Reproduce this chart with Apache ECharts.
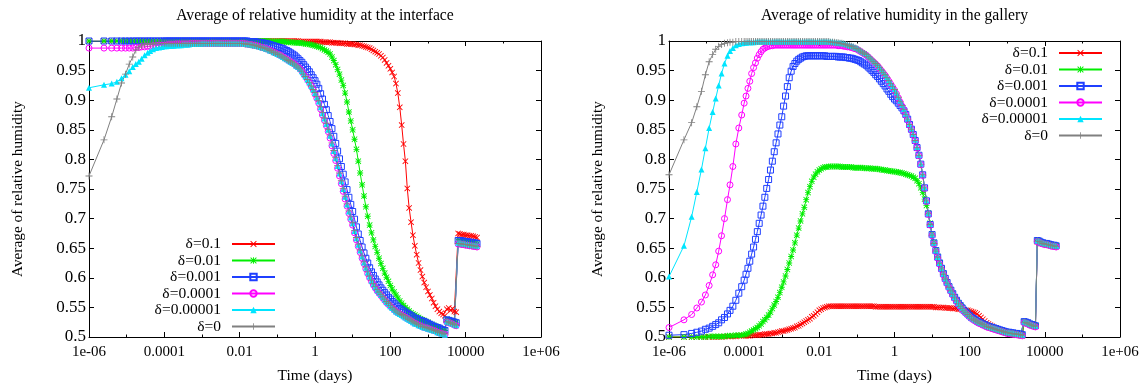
<!DOCTYPE html>
<html>
<head>
<meta charset="utf-8">
<script src="https://cdn.jsdelivr.net/npm/echarts@6/dist/echarts.min.js"></script>
<style>
  html, body { margin: 0; padding: 0; background: #fff; }
  #chart { width: 1148px; height: 389px; }
</style>
</head>
<body>
<div id="chart"></div>
<script>
// Sampling times (days) shared by every curve
const TIME = [
  1e-6, 2.5e-6, 4e-6, 5.5e-6, 7.3e-6, 9.3e-6, 1.17e-5, 1.45e-5, 1.75e-5, 2.1e-5, 2.5e-5,
  3e-5, 3.6e-5, 4.2e-5, 5e-5, 6e-5, 7.2e-5, 8.6e-5,
  1e-4, 1.12e-4, 1.26e-4, 1.41e-4, 1.58e-4, 1.78e-4, 2e-4, 2.24e-4, 2.51e-4, 2.82e-4,
  3.16e-4, 3.55e-4, 3.98e-4, 4.47e-4, 5.01e-4, 5.62e-4, 6.31e-4, 7.08e-4, 7.94e-4, 8.91e-4,
  1e-3, 1.12e-3, 1.26e-3, 1.41e-3, 1.58e-3, 1.78e-3, 2e-3, 2.24e-3, 2.51e-3, 2.82e-3,
  3.16e-3, 3.55e-3, 3.98e-3, 4.47e-3, 5.01e-3, 5.62e-3, 6.31e-3, 7.08e-3, 7.94e-3, 8.91e-3,
  1e-2, 1.12e-2, 1.26e-2, 1.41e-2, 1.58e-2, 1.78e-2, 2e-2, 2.24e-2, 2.51e-2, 2.82e-2,
  3.16e-2, 3.55e-2, 3.98e-2, 4.47e-2, 5.01e-2, 5.62e-2, 6.31e-2, 7.08e-2, 7.94e-2, 8.91e-2,
  0.1, 0.112, 0.126, 0.141, 0.158, 0.178, 0.2, 0.224, 0.251, 0.282,
  0.316, 0.355, 0.398, 0.447, 0.501, 0.562, 0.631, 0.708, 0.794, 0.891,
  1, 1.12, 1.26, 1.41, 1.58, 1.78, 2, 2.24, 2.51, 2.82,
  3.16, 3.55, 3.98, 4.47, 5.01, 5.62, 6.31, 7.08, 7.94, 8.91,
  10, 11.2, 12.6, 14.1, 15.8, 17.8, 20, 22.4, 25.1, 28.2,
  31.6, 35.5, 39.8, 44.7, 50.1, 56.2, 63.1, 70.8, 79.4, 89.1,
  100, 112, 126, 141, 158, 178, 200, 224, 251, 282,
  316, 355, 398, 447, 501, 562, 631, 708, 794, 891,
  1000, 1120, 1260, 1410, 1580, 1780, 2000, 2240, 2510, 2820,
  3160, 3550, 3980, 4470, 5010, 5620, 6310, 7080, 7940, 8910,
  10000, 11200, 12600, 14100, 15800, 17800, 20000
];

const LABELS = ['δ=0.1', 'δ=0.01', 'δ=0.001', 'δ=0.0001', 'δ=0.00001', 'δ=0'];

// Relative humidity at the interface (one row per decade after the first 18 samples)
const IF_01 = [
  1, 1, 1, 1, 1, 1, 1, 1, 1, 1, 1, 1, 1, 1, 1, 1, 1, 1,
  1, 1, 1, 1, 1, 1, 1, 1, 1, 1, 1, 1, 1, 1, 1, 1, 1, 1, 1, 1,
  1, 1, 1, 1, 1, 1, 1, 1, 1, 1, 1, 1, 1, 1, 1, 1, 1, 1, 1, 1,
  1, 1, 1, 1, 1, 1, 1, 1, 1, 1, 1, 1, 1, 1, 1, 1, 1, 1, 1, 1,
  1, 1, 1, 1, 1, 1, 1, 1, 1, 1, 1, 1, 0.999, 0.999, 0.999, 0.999, 0.999, 0.999, 0.999, 0.999,
  0.999, 0.999, 0.999, 0.999, 0.998, 0.998, 0.998, 0.998, 0.998, 0.997, 0.997, 0.997, 0.997, 0.996, 0.996, 0.996, 0.996, 0.995, 0.995, 0.995,
  0.995, 0.994, 0.994, 0.993, 0.993, 0.992, 0.991, 0.990, 0.989, 0.988, 0.986, 0.984, 0.982, 0.980, 0.978, 0.975, 0.972, 0.968, 0.963, 0.958,
  0.953, 0.947, 0.940, 0.928, 0.912, 0.888, 0.858, 0.826, 0.797, 0.751, 0.718, 0.694, 0.672, 0.654, 0.639, 0.625, 0.613, 0.602, 0.592, 0.584,
  0.577, 0.571, 0.565, 0.558, 0.552, 0.547, 0.543, 0.540, 0.538, 0.536, 0.547, 0.549, 0.545, 0.548, 0.543, 0.542, 0.675, 0.674, 0.673, 0.673,
  0.672, 0.672, 0.671, 0.671, 0.670, 0.669, 0.668
];
const IF_001 = [
  1, 1, 1, 1, 1, 1, 1, 1, 1, 1, 1, 1, 1, 1, 1, 1, 1, 1,
  1, 1, 1, 1, 1, 1, 1, 1, 1, 1, 1, 1, 1, 1, 1, 1, 1, 1, 1, 1,
  1, 1, 1, 1, 1, 1, 1, 1, 1, 1, 1, 1, 1, 1, 1, 1, 1, 1, 1, 1,
  1, 1, 1, 1, 1, 1, 1, 1, 1, 1, 1, 1, 1, 1, 1, 1, 0.999, 0.999, 0.999, 0.999,
  0.999, 0.999, 0.999, 0.999, 0.999, 0.998, 0.998, 0.998, 0.998, 0.997, 0.997, 0.997, 0.997, 0.996, 0.996, 0.995, 0.995, 0.994, 0.994, 0.993,
  0.992, 0.991, 0.990, 0.989, 0.987, 0.985, 0.983, 0.981, 0.978, 0.973, 0.967, 0.960, 0.952, 0.944, 0.934, 0.925, 0.912, 0.897, 0.880, 0.865,
  0.850, 0.834, 0.817, 0.797, 0.777, 0.757, 0.738, 0.720, 0.704, 0.689, 0.676, 0.664, 0.653, 0.643, 0.633, 0.624, 0.616, 0.608, 0.601, 0.594,
  0.587, 0.581, 0.576, 0.571, 0.566, 0.561, 0.557, 0.553, 0.550, 0.547, 0.544, 0.541, 0.539, 0.537, 0.535, 0.533, 0.531, 0.529, 0.528, 0.526,
  0.525, 0.523, 0.521, 0.520, 0.518, 0.516, 0.515, 0.513, 0.512, 0.511, 0.530, 0.529, 0.528, 0.527, 0.526, 0.525, 0.662, 0.662, 0.661, 0.661,
  0.660, 0.660, 0.659, 0.659, 0.658, 0.658, 0.657
];
const IF_0001 = [
  1, 1, 1, 1, 1, 1, 1, 1, 1, 1, 1, 1, 1, 1, 1, 1, 1, 1,
  1, 1, 1, 1, 1, 1, 1, 1, 1, 1, 1, 1, 1, 1, 1, 1, 1, 1, 1, 1,
  1, 1, 1, 1, 1, 1, 1, 1, 1, 1, 1, 1, 1, 1, 1, 1, 1, 1, 1, 1,
  1, 1, 1, 1, 1, 0.999, 0.999, 0.999, 0.999, 0.998, 0.998, 0.997, 0.997, 0.996, 0.996, 0.995, 0.994, 0.993, 0.992, 0.991,
  0.990, 0.989, 0.988, 0.987, 0.985, 0.984, 0.982, 0.980, 0.978, 0.976, 0.973, 0.970, 0.967, 0.964, 0.960, 0.956, 0.952, 0.948, 0.943, 0.938,
  0.933, 0.927, 0.920, 0.911, 0.902, 0.893, 0.884, 0.874, 0.864, 0.852, 0.839, 0.827, 0.814, 0.801, 0.788, 0.775, 0.762, 0.749, 0.736, 0.724,
  0.712, 0.699, 0.686, 0.674, 0.663, 0.652, 0.642, 0.633, 0.625, 0.617, 0.610, 0.604, 0.598, 0.593, 0.588, 0.583, 0.579, 0.575, 0.571, 0.567,
  0.564, 0.560, 0.557, 0.554, 0.551, 0.548, 0.546, 0.544, 0.542, 0.540, 0.538, 0.536, 0.534, 0.532, 0.531, 0.529, 0.528, 0.527, 0.526, 0.524,
  0.523, 0.521, 0.520, 0.518, 0.517, 0.516, 0.515, 0.513, 0.512, 0.511, 0.529, 0.528, 0.527, 0.526, 0.525, 0.524, 0.663, 0.663, 0.662, 0.662,
  0.661, 0.661, 0.660, 0.660, 0.659, 0.659, 0.658
];
const IF_00001 = [
  0.988, 0.988, 0.988, 0.988, 0.988, 0.988, 0.988, 0.988, 0.989, 0.989, 0.990, 0.990, 0.991, 0.991, 0.992, 0.992, 0.993, 0.993,
  0.993, 0.993, 0.994, 0.994, 0.994, 0.994, 0.995, 0.995, 0.995, 0.995, 0.995, 0.995, 0.995, 0.995, 0.996, 0.996, 0.996, 0.996, 0.996, 0.996,
  0.996, 0.996, 0.996, 0.996, 0.996, 0.996, 0.996, 0.996, 0.996, 0.996, 0.996, 0.996, 0.996, 0.996, 0.996, 0.996, 0.996, 0.996, 0.996, 0.996,
  0.996, 0.996, 0.996, 0.995, 0.995, 0.994, 0.994, 0.993, 0.993, 0.992, 0.991, 0.990, 0.989, 0.988, 0.987, 0.986, 0.984, 0.983, 0.981, 0.980,
  0.978, 0.977, 0.975, 0.973, 0.971, 0.969, 0.967, 0.965, 0.963, 0.961, 0.958, 0.956, 0.953, 0.949, 0.944, 0.940, 0.935, 0.930, 0.924, 0.918,
  0.910, 0.903, 0.895, 0.885, 0.875, 0.866, 0.857, 0.847, 0.836, 0.823, 0.810, 0.798, 0.785, 0.772, 0.759, 0.746, 0.733, 0.721, 0.709, 0.699,
  0.689, 0.676, 0.664, 0.653, 0.643, 0.633, 0.624, 0.615, 0.607, 0.600, 0.594, 0.588, 0.583, 0.578, 0.574, 0.570, 0.566, 0.562, 0.558, 0.555,
  0.552, 0.549, 0.546, 0.543, 0.541, 0.539, 0.537, 0.535, 0.533, 0.531, 0.529, 0.527, 0.525, 0.523, 0.522, 0.520, 0.519, 0.517, 0.516, 0.515,
  0.514, 0.513, 0.512, 0.511, 0.510, 0.508, 0.507, 0.506, 0.505, 0.504, 0.525, 0.524, 0.523, 0.522, 0.520, 0.519, 0.657, 0.657, 0.656, 0.656,
  0.655, 0.655, 0.654, 0.654, 0.653, 0.653, 0.652
];
const IF_000001 = [
  0.921, 0.926, 0.928, 0.931, 0.937, 0.943, 0.949, 0.956, 0.961, 0.965, 0.970, 0.976, 0.980, 0.983, 0.986, 0.988, 0.989, 0.990,
  0.991, 0.991, 0.992, 0.992, 0.992, 0.992, 0.993, 0.993, 0.993, 0.993, 0.994, 0.994, 0.994, 0.994, 0.995, 0.995, 0.995, 0.995, 0.995, 0.995,
  0.996, 0.996, 0.996, 0.996, 0.996, 0.996, 0.996, 0.996, 0.996, 0.996, 0.996, 0.996, 0.996, 0.996, 0.996, 0.996, 0.996, 0.996, 0.996, 0.996,
  0.996, 0.996, 0.996, 0.995, 0.995, 0.994, 0.994, 0.993, 0.993, 0.992, 0.991, 0.990, 0.989, 0.988, 0.987, 0.986, 0.984, 0.983, 0.981, 0.980,
  0.978, 0.977, 0.975, 0.973, 0.971, 0.969, 0.967, 0.965, 0.963, 0.961, 0.958, 0.956, 0.953, 0.949, 0.944, 0.940, 0.935, 0.930, 0.924, 0.918,
  0.912, 0.905, 0.898, 0.888, 0.878, 0.869, 0.860, 0.850, 0.840, 0.827, 0.814, 0.802, 0.789, 0.776, 0.763, 0.750, 0.737, 0.724, 0.712, 0.702,
  0.692, 0.679, 0.667, 0.656, 0.646, 0.636, 0.626, 0.617, 0.609, 0.602, 0.595, 0.589, 0.584, 0.579, 0.575, 0.571, 0.567, 0.563, 0.559, 0.556,
  0.552, 0.549, 0.546, 0.543, 0.541, 0.539, 0.537, 0.535, 0.533, 0.531, 0.529, 0.527, 0.525, 0.523, 0.522, 0.520, 0.519, 0.517, 0.516, 0.515,
  0.514, 0.513, 0.512, 0.511, 0.510, 0.508, 0.507, 0.506, 0.505, 0.504, 0.526, 0.525, 0.524, 0.523, 0.521, 0.520, 0.659, 0.659, 0.658, 0.658,
  0.657, 0.657, 0.656, 0.656, 0.655, 0.655, 0.654
];
const IF_0 = [
  0.772, 0.833, 0.872, 0.902, 0.929, 0.944, 0.961, 0.973, 0.985, 0.990, 0.993, 0.994, 0.995, 0.995, 0.995, 0.996, 0.996, 0.996,
  0.996, 0.996, 0.996, 0.996, 0.996, 0.996, 0.996, 0.996, 0.996, 0.996, 0.996, 0.996, 0.996, 0.996, 0.996, 0.996, 0.996, 0.996, 0.996, 0.996,
  0.996, 0.996, 0.996, 0.996, 0.996, 0.996, 0.996, 0.996, 0.996, 0.996, 0.996, 0.996, 0.996, 0.996, 0.996, 0.996, 0.996, 0.996, 0.996, 0.996,
  0.996, 0.996, 0.996, 0.995, 0.995, 0.994, 0.994, 0.993, 0.993, 0.992, 0.991, 0.990, 0.989, 0.988, 0.987, 0.986, 0.984, 0.983, 0.981, 0.980,
  0.978, 0.977, 0.975, 0.973, 0.971, 0.969, 0.967, 0.965, 0.963, 0.961, 0.958, 0.956, 0.953, 0.949, 0.944, 0.940, 0.935, 0.930, 0.924, 0.918,
  0.913, 0.906, 0.899, 0.889, 0.879, 0.870, 0.861, 0.851, 0.841, 0.828, 0.815, 0.803, 0.790, 0.777, 0.764, 0.751, 0.738, 0.725, 0.713, 0.703,
  0.693, 0.680, 0.668, 0.657, 0.647, 0.637, 0.627, 0.618, 0.610, 0.603, 0.596, 0.590, 0.585, 0.580, 0.576, 0.572, 0.568, 0.564, 0.560, 0.557,
  0.553, 0.550, 0.547, 0.544, 0.542, 0.540, 0.538, 0.536, 0.534, 0.532, 0.530, 0.528, 0.526, 0.524, 0.523, 0.521, 0.520, 0.518, 0.517, 0.516,
  0.515, 0.514, 0.513, 0.512, 0.511, 0.509, 0.508, 0.507, 0.506, 0.505, 0.526, 0.525, 0.524, 0.523, 0.521, 0.520, 0.658, 0.658, 0.657, 0.657,
  0.656, 0.656, 0.655, 0.655, 0.654, 0.654, 0.653
];

// Relative humidity in the gallery
const GAL_01 = [
  0.5, 0.5, 0.5, 0.5, 0.5, 0.5, 0.5, 0.5, 0.5, 0.5, 0.5, 0.501, 0.501, 0.501, 0.501, 0.501, 0.502, 0.502,
  0.502, 0.502, 0.502, 0.502, 0.503, 0.503, 0.503, 0.503, 0.504, 0.504, 0.504, 0.505, 0.505, 0.505, 0.506, 0.506, 0.507, 0.507, 0.508, 0.509,
  0.510, 0.510, 0.511, 0.512, 0.513, 0.514, 0.515, 0.516, 0.518, 0.519, 0.521, 0.523, 0.525, 0.527, 0.529, 0.531, 0.534, 0.536, 0.539, 0.542,
  0.545, 0.547, 0.549, 0.550, 0.551, 0.552, 0.552, 0.552, 0.552, 0.552, 0.552, 0.552, 0.552, 0.552, 0.552, 0.552, 0.552, 0.552, 0.552, 0.552,
  0.552, 0.552, 0.552, 0.552, 0.552, 0.552, 0.552, 0.552, 0.552, 0.552, 0.551, 0.551, 0.551, 0.551, 0.551, 0.551, 0.551, 0.551, 0.551, 0.551,
  0.551, 0.551, 0.551, 0.551, 0.551, 0.551, 0.551, 0.551, 0.551, 0.551, 0.551, 0.551, 0.551, 0.551, 0.551, 0.551, 0.551, 0.551, 0.551, 0.551,
  0.551, 0.551, 0.550, 0.550, 0.550, 0.550, 0.550, 0.549, 0.549, 0.549, 0.549, 0.548, 0.548, 0.548, 0.547, 0.547, 0.546, 0.546, 0.545, 0.545,
  0.544, 0.543, 0.542, 0.541, 0.539, 0.536, 0.533, 0.530, 0.527, 0.524, 0.522, 0.520, 0.518, 0.516, 0.515, 0.513, 0.512, 0.511, 0.510, 0.508,
  0.507, 0.506, 0.505, 0.505, 0.504, 0.504, 0.503, 0.503, 0.502, 0.525, 0.524, 0.523, 0.521, 0.520, 0.519, 0.518, 0.661, 0.660, 0.658, 0.658,
  0.657, 0.656, 0.655, 0.655, 0.654, 0.654, 0.653
];
const GAL_001 = [
  0.5, 0.5, 0.5, 0.5, 0.5, 0.5, 0.501, 0.501, 0.501, 0.501, 0.501, 0.501, 0.502, 0.502, 0.502, 0.503, 0.503, 0.503,
  0.504, 0.505, 0.506, 0.508, 0.510, 0.512, 0.514, 0.516, 0.519, 0.522, 0.526, 0.529, 0.533, 0.537, 0.542, 0.548, 0.554, 0.560, 0.567, 0.575,
  0.584, 0.593, 0.603, 0.614, 0.625, 0.636, 0.647, 0.659, 0.672, 0.684, 0.696, 0.708, 0.719, 0.732, 0.744, 0.754, 0.763, 0.770, 0.775, 0.779,
  0.782, 0.784, 0.786, 0.787, 0.787, 0.788, 0.788, 0.788, 0.788, 0.788, 0.788, 0.788, 0.787, 0.787, 0.787, 0.787, 0.787, 0.787, 0.786, 0.786,
  0.786, 0.786, 0.786, 0.786, 0.785, 0.785, 0.785, 0.785, 0.784, 0.784, 0.784, 0.784, 0.783, 0.783, 0.782, 0.782, 0.781, 0.781, 0.780, 0.780,
  0.779, 0.779, 0.778, 0.778, 0.777, 0.776, 0.775, 0.774, 0.773, 0.772, 0.770, 0.768, 0.764, 0.759, 0.752, 0.744, 0.733, 0.722, 0.709, 0.692,
  0.674, 0.660, 0.647, 0.636, 0.626, 0.617, 0.608, 0.600, 0.593, 0.586, 0.580, 0.574, 0.568, 0.562, 0.557, 0.553, 0.550, 0.546, 0.543, 0.540,
  0.536, 0.533, 0.531, 0.529, 0.527, 0.525, 0.524, 0.522, 0.521, 0.519, 0.518, 0.517, 0.516, 0.515, 0.514, 0.513, 0.512, 0.511, 0.510, 0.509,
  0.508, 0.508, 0.507, 0.507, 0.506, 0.506, 0.505, 0.505, 0.504, 0.526, 0.525, 0.524, 0.523, 0.522, 0.520, 0.519, 0.663, 0.662, 0.660, 0.659,
  0.658, 0.657, 0.657, 0.656, 0.655, 0.655, 0.654
];
const GAL_0001 = [
  0.503, 0.504, 0.506, 0.508, 0.510, 0.513, 0.515, 0.518, 0.521, 0.524, 0.529, 0.533, 0.539, 0.545, 0.552, 0.562, 0.574, 0.585,
  0.596, 0.606, 0.616, 0.628, 0.640, 0.652, 0.665, 0.678, 0.692, 0.706, 0.721, 0.736, 0.751, 0.766, 0.782, 0.797, 0.813, 0.828, 0.843, 0.858,
  0.872, 0.890, 0.907, 0.923, 0.938, 0.949, 0.957, 0.962, 0.966, 0.969, 0.971, 0.973, 0.974, 0.975, 0.975, 0.975, 0.975, 0.975, 0.975, 0.975,
  0.975, 0.975, 0.975, 0.975, 0.974, 0.974, 0.974, 0.974, 0.974, 0.974, 0.973, 0.973, 0.973, 0.973, 0.972, 0.972, 0.971, 0.971, 0.970, 0.969,
  0.968, 0.967, 0.965, 0.963, 0.961, 0.959, 0.956, 0.953, 0.950, 0.947, 0.943, 0.940, 0.936, 0.932, 0.928, 0.924, 0.919, 0.915, 0.910, 0.906,
  0.902, 0.899, 0.895, 0.891, 0.887, 0.882, 0.876, 0.868, 0.859, 0.851, 0.842, 0.832, 0.820, 0.807, 0.792, 0.774, 0.752, 0.730, 0.708, 0.690,
  0.673, 0.659, 0.646, 0.635, 0.625, 0.616, 0.607, 0.599, 0.592, 0.585, 0.579, 0.573, 0.567, 0.562, 0.557, 0.553, 0.549, 0.545, 0.542, 0.539,
  0.536, 0.533, 0.531, 0.529, 0.527, 0.525, 0.524, 0.522, 0.521, 0.519, 0.518, 0.517, 0.516, 0.515, 0.514, 0.513, 0.512, 0.511, 0.510, 0.509,
  0.508, 0.508, 0.507, 0.507, 0.506, 0.506, 0.505, 0.505, 0.504, 0.526, 0.525, 0.524, 0.522, 0.521, 0.520, 0.519, 0.663, 0.662, 0.660, 0.659,
  0.658, 0.658, 0.657, 0.656, 0.655, 0.655, 0.654
];
const GAL_00001 = [
  0.516, 0.529, 0.538, 0.549, 0.559, 0.571, 0.587, 0.605, 0.622, 0.645, 0.671, 0.700, 0.732, 0.757, 0.788, 0.826, 0.853, 0.875,
  0.895, 0.907, 0.920, 0.932, 0.945, 0.955, 0.963, 0.971, 0.977, 0.982, 0.986, 0.988, 0.990, 0.991, 0.992, 0.992, 0.993, 0.993, 0.993, 0.993,
  0.993, 0.993, 0.993, 0.993, 0.993, 0.993, 0.993, 0.993, 0.993, 0.993, 0.993, 0.993, 0.993, 0.993, 0.993, 0.993, 0.993, 0.993, 0.993, 0.993,
  0.993, 0.993, 0.993, 0.993, 0.993, 0.993, 0.993, 0.993, 0.993, 0.993, 0.992, 0.992, 0.992, 0.991, 0.991, 0.990, 0.990, 0.989, 0.988, 0.987,
  0.986, 0.984, 0.982, 0.980, 0.978, 0.976, 0.973, 0.970, 0.967, 0.964, 0.961, 0.958, 0.954, 0.950, 0.946, 0.942, 0.937, 0.932, 0.927, 0.922,
  0.917, 0.911, 0.904, 0.897, 0.890, 0.883, 0.875, 0.867, 0.858, 0.850, 0.841, 0.831, 0.819, 0.806, 0.791, 0.773, 0.751, 0.729, 0.707, 0.689,
  0.671, 0.657, 0.644, 0.633, 0.623, 0.614, 0.605, 0.597, 0.590, 0.583, 0.577, 0.571, 0.565, 0.560, 0.555, 0.551, 0.547, 0.543, 0.540, 0.537,
  0.534, 0.531, 0.529, 0.527, 0.525, 0.523, 0.522, 0.520, 0.519, 0.517, 0.516, 0.515, 0.514, 0.513, 0.512, 0.511, 0.510, 0.509, 0.508, 0.507,
  0.506, 0.506, 0.505, 0.505, 0.504, 0.504, 0.503, 0.503, 0.502, 0.524, 0.523, 0.522, 0.520, 0.519, 0.518, 0.517, 0.661, 0.660, 0.658, 0.657,
  0.656, 0.656, 0.655, 0.654, 0.653, 0.653, 0.652
];
const GAL_000001 = [
  0.602, 0.654, 0.703, 0.745, 0.783, 0.819, 0.853, 0.880, 0.903, 0.925, 0.945, 0.962, 0.975, 0.983, 0.988, 0.993, 0.995, 0.996,
  0.997, 0.997, 0.998, 0.998, 0.998, 0.998, 0.999, 0.999, 0.999, 0.999, 0.999, 0.999, 0.999, 0.999, 0.999, 0.999, 0.999, 0.999, 0.999, 0.999,
  0.999, 0.999, 0.999, 0.999, 0.999, 0.999, 0.999, 0.999, 0.999, 0.999, 0.999, 0.999, 0.999, 0.999, 0.999, 0.999, 0.999, 0.999, 0.999, 0.999,
  0.999, 0.999, 0.999, 0.999, 0.999, 0.999, 0.999, 0.999, 0.998, 0.998, 0.997, 0.997, 0.996, 0.996, 0.995, 0.994, 0.993, 0.992, 0.991, 0.989,
  0.988, 0.986, 0.984, 0.982, 0.980, 0.978, 0.975, 0.972, 0.969, 0.966, 0.963, 0.960, 0.956, 0.952, 0.948, 0.944, 0.939, 0.934, 0.929, 0.924,
  0.919, 0.913, 0.906, 0.899, 0.892, 0.885, 0.877, 0.869, 0.860, 0.852, 0.843, 0.833, 0.821, 0.808, 0.793, 0.775, 0.753, 0.731, 0.709, 0.691,
  0.673, 0.659, 0.646, 0.635, 0.625, 0.616, 0.607, 0.599, 0.592, 0.585, 0.579, 0.573, 0.567, 0.562, 0.557, 0.553, 0.549, 0.545, 0.542, 0.539,
  0.536, 0.533, 0.531, 0.529, 0.527, 0.525, 0.524, 0.522, 0.521, 0.519, 0.518, 0.517, 0.516, 0.515, 0.514, 0.513, 0.512, 0.511, 0.510, 0.509,
  0.508, 0.508, 0.507, 0.507, 0.506, 0.506, 0.505, 0.505, 0.504, 0.526, 0.525, 0.524, 0.522, 0.521, 0.520, 0.519, 0.663, 0.662, 0.660, 0.659,
  0.658, 0.658, 0.657, 0.656, 0.655, 0.655, 0.654
];
const GAL_0 = [
  0.774, 0.833, 0.862, 0.889, 0.915, 0.943, 0.965, 0.977, 0.986, 0.991, 0.994, 0.996, 0.997, 0.998, 0.998, 0.999, 0.999, 0.999,
  0.999, 0.999, 0.999, 0.999, 0.999, 0.999, 0.999, 0.999, 0.999, 0.999, 0.999, 0.999, 0.999, 0.999, 0.999, 0.999, 0.999, 0.999, 0.999, 0.999,
  0.999, 0.999, 0.999, 0.999, 0.999, 0.999, 0.999, 0.999, 0.999, 0.999, 0.999, 0.999, 0.999, 0.999, 0.999, 0.999, 0.999, 0.999, 0.999, 0.999,
  0.999, 0.999, 0.999, 0.999, 0.999, 0.999, 0.998, 0.998, 0.998, 0.997, 0.997, 0.996, 0.996, 0.995, 0.994, 0.993, 0.992, 0.991, 0.990, 0.988,
  0.987, 0.985, 0.983, 0.981, 0.979, 0.977, 0.974, 0.971, 0.968, 0.965, 0.962, 0.959, 0.955, 0.951, 0.947, 0.943, 0.938, 0.933, 0.928, 0.923,
  0.918, 0.912, 0.905, 0.898, 0.891, 0.884, 0.876, 0.868, 0.859, 0.851, 0.842, 0.832, 0.820, 0.807, 0.792, 0.774, 0.752, 0.730, 0.708, 0.690,
  0.672, 0.658, 0.645, 0.634, 0.624, 0.615, 0.606, 0.598, 0.591, 0.584, 0.578, 0.572, 0.566, 0.561, 0.556, 0.552, 0.548, 0.544, 0.541, 0.538,
  0.535, 0.532, 0.530, 0.528, 0.526, 0.524, 0.523, 0.521, 0.520, 0.518, 0.517, 0.516, 0.515, 0.514, 0.513, 0.512, 0.511, 0.510, 0.509, 0.508,
  0.507, 0.507, 0.506, 0.506, 0.505, 0.505, 0.504, 0.504, 0.503, 0.525, 0.524, 0.523, 0.521, 0.520, 0.519, 0.518, 0.662, 0.661, 0.659, 0.658,
  0.657, 0.657, 0.656, 0.655, 0.654, 0.654, 0.653
];

// Axis ticks
const X_MAJOR = [1e-6, 1e-4, 1e-2, 1, 1e2, 1e4, 1e6];
const X_MAJOR_TEXT = ['1e-06', '0.0001', '0.01', '1', '100', '10000', '1e+06'];
const X_MINOR = [1e-5, 1e-3, 1e-1, 10, 1e3, 1e5];
const Y_MIN = 0.5, Y_MAX = 1, Y_STEP = 0.05;

const TITLES = ['Average of relative humidity at the interface', 'Average of relative humidity in the gallery'];
const X_NAME = 'Time (days)';
const Y_NAME = 'Average of relative humidity';

const PANELS = [
  { title: TITLES[0], curves: [IF_01, IF_001, IF_0001, IF_00001, IF_000001, IF_0] },
  { title: TITLES[1], curves: [GAL_01, GAL_001, GAL_0001, GAL_00001, GAL_000001, GAL_0] }
];

// ---------- styling ----------
const FONT = "'Liberation Serif', 'Times New Roman', serif";
const INK = '#000';
const BOXES = [
  { left: 89, top: 41, width: 452, height: 296 },
  { left: 669, top: 41, width: 451, height: 296 }
];
const LEGEND_POS = [
  { right: 872, top: 236 },
  { right: 45, top: 45 }
];

const SYM_CROSS = 'path://M0,1L1,0L5,4L9,0L10,1L6,5L10,9L9,10L5,6L1,10L0,9L4,5Z';
const SYM_STAR = 'path://M0,1L1,0L5,4L9,0L10,1L6,5L10,9L9,10L5,6L1,10L0,9L4,5Z' +
  'M4.3,0L5.7,0L5.7,4.3L10,4.3L10,5.7L5.7,5.7L5.7,10L4.3,10L4.3,5.7L0,5.7L0,4.3L4.3,4.3Z';
const SYM_PLUS = 'path://M4.4,0L5.6,0L5.6,4.4L10,4.4L10,5.6L5.6,5.6L5.6,10L4.4,10L4.4,5.6L0,5.6L0,4.4L4.4,4.4Z';

const DELTA_STYLE = [
  { color: '#ff0000', symbol: SYM_CROSS, size: 6, hollow: false },
  { color: '#00ee00', symbol: SYM_STAR, size: 6, hollow: false },
  { color: '#1f3fff', symbol: 'rect', size: 6, hollow: true },
  { color: '#ff00ff', symbol: 'circle', size: 6, hollow: true },
  { color: '#00e5ff', symbol: 'triangle', size: 6, hollow: false },
  { color: '#808080', symbol: SYM_PLUS, size: 7, hollow: false }
];

function xLabel(v) {
  let best = 0;
  X_MAJOR.forEach((m, i) => {
    if (Math.abs(Math.log10(v / m)) < Math.abs(Math.log10(v / X_MAJOR[best]))) best = i;
  });
  return X_MAJOR_TEXT[best];
}

const grid = [], xAxis = [], yAxis = [], series = [], title = [], legend = [];

PANELS.forEach((panel, p) => {
  const box = BOXES[p];
  const mainGrid = grid.length;
  grid.push({ ...box, containLabel: false });
  const tickGrid = grid.length;
  grid.push({ ...box, containLabel: false });

  const logBase = { type: 'log', logBase: 10, min: 1e-6, max: 1e6, splitLine: { show: false } };
  const line = { show: true, lineStyle: { color: INK, width: 1 } };

  const xMain = xAxis.length;
  xAxis.push({
    ...logBase, gridIndex: mainGrid, position: 'bottom', axisLine: line,
    axisTick: { inside: true, length: 5, customValues: X_MAJOR, lineStyle: { color: INK } },
    axisLabel: { customValues: X_MAJOR, formatter: xLabel, margin: 8, color: INK, fontFamily: FONT, fontSize: 15 },
    name: X_NAME, nameLocation: 'middle', nameGap: 31,
    nameTextStyle: { color: INK, fontFamily: FONT, fontSize: 15.5 }
  });
  xAxis.push({
    ...logBase, gridIndex: mainGrid, position: 'top', axisLine: line,
    axisTick: { inside: true, length: 5, customValues: X_MAJOR, lineStyle: { color: INK } },
    axisLabel: { show: false }
  });
  xAxis.push({
    ...logBase, gridIndex: tickGrid, position: 'bottom', axisLine: { show: false },
    axisTick: { inside: true, length: 2.5, customValues: X_MINOR, lineStyle: { color: INK } },
    axisLabel: { show: false }
  });
  xAxis.push({
    ...logBase, gridIndex: tickGrid, position: 'top', axisLine: { show: false },
    axisTick: { inside: true, length: 2.5, customValues: X_MINOR, lineStyle: { color: INK } },
    axisLabel: { show: false }
  });

  const yBase = { type: 'value', min: Y_MIN, max: Y_MAX, interval: Y_STEP, splitLine: { show: false } };
  const yMain = yAxis.length;
  yAxis.push({
    ...yBase, gridIndex: mainGrid, position: 'left', axisLine: line,
    axisTick: { inside: true, length: 5, lineStyle: { color: INK } },
    axisLabel: { margin: 3, color: INK, fontFamily: FONT, fontSize: 17 },
    name: Y_NAME, nameLocation: 'middle', nameGap: 64,
    nameTextStyle: { color: INK, fontFamily: FONT, fontSize: 15.3 }
  });
  yAxis.push({
    ...yBase, gridIndex: mainGrid, position: 'right', axisLine: line,
    axisTick: { inside: true, length: 5, lineStyle: { color: INK } },
    axisLabel: { show: false }
  });
  yAxis.push({ ...yBase, gridIndex: tickGrid, show: false });

  title.push({
    text: panel.title, left: box.left + box.width / 2, top: 8, textAlign: 'center', padding: 0,
    textStyle: { color: INK, fontFamily: FONT, fontSize: 15.7, fontWeight: 'normal' }
  });

  legend.push({
    ...LEGEND_POS[p], orient: 'vertical', align: 'right', padding: 0, itemGap: 0.5,
    itemWidth: 43, itemHeight: 8, selectedMode: false, data: LABELS,
    lineStyle: { width: 2 },
    textStyle: { color: INK, fontFamily: FONT, fontSize: 15.5, padding: [0, 6, 0, 0] }
  });

  panel.curves.forEach((values, i) => {
    const st = DELTA_STYLE[i];
    series.push({
      type: 'line', name: LABELS[i], xAxisIndex: xMain, yAxisIndex: yMain,
      data: TIME.map((t, k) => [t, values[k]]),
      symbol: st.symbol, symbolSize: st.size, showSymbol: true, showAllSymbol: true,
      lineStyle: { color: st.color, width: 1 },
      itemStyle: st.hollow
        ? { color: 'rgba(255,255,255,0)', borderColor: st.color, borderWidth: 1 }
        : { color: st.color, borderWidth: 0 },
      emphasis: { disabled: true }, silent: true
    });
  });
});

const chart = echarts.init(document.getElementById('chart'), null, { renderer: 'canvas' });
chart.setOption({
  animation: false,
  backgroundColor: '#fff',
  title, grid, xAxis, yAxis, legend, series
});
</script>
</body>
</html>
